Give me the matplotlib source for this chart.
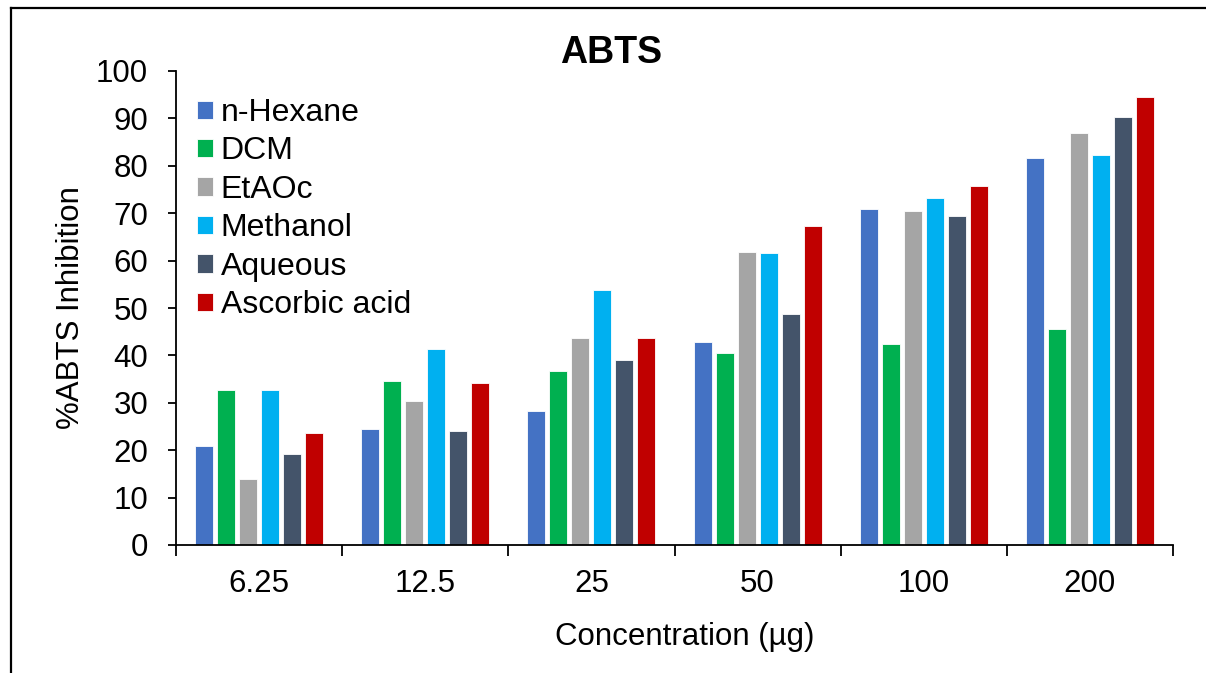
import matplotlib
matplotlib.use("Agg")

import matplotlib.pyplot as plt
from matplotlib.lines import Line2D
import numpy as np

# -- Data ---------------------------------------------------------------------
concentrations = ["6.25", "12.5", "25", "50", "100", "200"]
extracts = ["n-Hexane", "DCM", "EtAOc", "Methanol", "Aqueous", "Ascorbic acid"]

n_hexane = [20.9, 24.5, 28.2, 42.8, 70.8, 81.7]
dcm = [32.8, 34.6, 36.7, 40.5, 42.5, 45.5]
etaoc = [13.9, 30.4, 43.6, 61.9, 70.5, 86.9]
methanol = [32.7, 41.4, 53.7, 61.7, 73.2, 82.3]
aqueous = [19.2, 24.1, 39.0, 48.7, 69.4, 90.3]
ascorbic = [23.6, 34.2, 43.6, 67.4, 75.7, 94.5]

series = [n_hexane, dcm, etaoc, methanol, aqueous, ascorbic]
colors = ["#4472C4", "#00B050", "#A5A5A5", "#00B0F0", "#44546A", "#C00000"]

plt.rcParams["font.family"] = ["Liberation Sans", "DejaVu Sans"]

# -- Plot ---------------------------------------------------------------------
fig = plt.figure(figsize=(12.06, 6.73), dpi=100)
ax = fig.add_axes([176 / 1206, 1 - 545 / 673, 997 / 1206, 474 / 673])

x = np.arange(len(concentrations))
step = 0.1325
width = 0.108
for i, (vals, name, c) in enumerate(zip(series, extracts, colors)):
    offset = (i - (len(series) - 1) / 2) * step
    ax.bar(x + offset, vals, width=width, color=c, edgecolor="white",
           linewidth=0.6, label=name, zorder=2)

ax.set_xlim(-0.5, len(concentrations) - 0.5)
ax.set_ylim(0, 100)

fs = 22.5

# y axis
ax.set_yticks(np.arange(0, 101, 10))
ax.tick_params(axis="y", direction="out", length=6, width=1.3,
               labelsize=fs, pad=14)

# x axis: ticks on category boundaries, labels at centres
ax.set_xticks(np.arange(-0.5, len(concentrations), 1.0))
ax.set_xticklabels([])
ax.set_xticks(x, minor=True)
ax.set_xticklabels(concentrations, minor=True)
ax.tick_params(axis="x", which="major", direction="out", length=8, width=1.3)
ax.tick_params(axis="x", which="minor", length=0, labelsize=fs, pad=17)

for side in ("top", "right"):
    ax.spines[side].set_visible(False)
for side in ("left", "bottom"):
    ax.spines[side].set_linewidth(1.3)

ax.set_title("ABTS", fontsize=27, fontweight="bold", x=(611 - 176) / 997, y=1.0, pad=6)
ax.set_ylabel("%ABTS Inhibition", fontsize=fs)
ax.yaxis.set_label_coords((86 - 176) / 997, (545 - 308) / 474)
ax.set_xlabel("Concentration (µg)", fontsize=fs)
ax.xaxis.set_label_coords((685 - 176) / 997, -77 / 474)

leg = ax.legend(loc="upper left", bbox_to_anchor=(0.008, 0.97), frameon=False,
                fontsize=23, handlelength=0.5, handleheight=0.5,
                handletextpad=0.25, labelspacing=0.265, borderaxespad=0)

# outer frame lines
fig.add_artist(Line2D([11 / 1206, 11 / 1206], [0, 1 - 8 / 673], color="black",
                      lw=1.6, transform=fig.transFigure))
fig.add_artist(Line2D([11 / 1206, 1], [1 - 8 / 673, 1 - 8 / 673], color="black",
                      lw=1.6, transform=fig.transFigure))

fig.savefig("out.png", dpi=100, facecolor="white")
plt.close(fig)
